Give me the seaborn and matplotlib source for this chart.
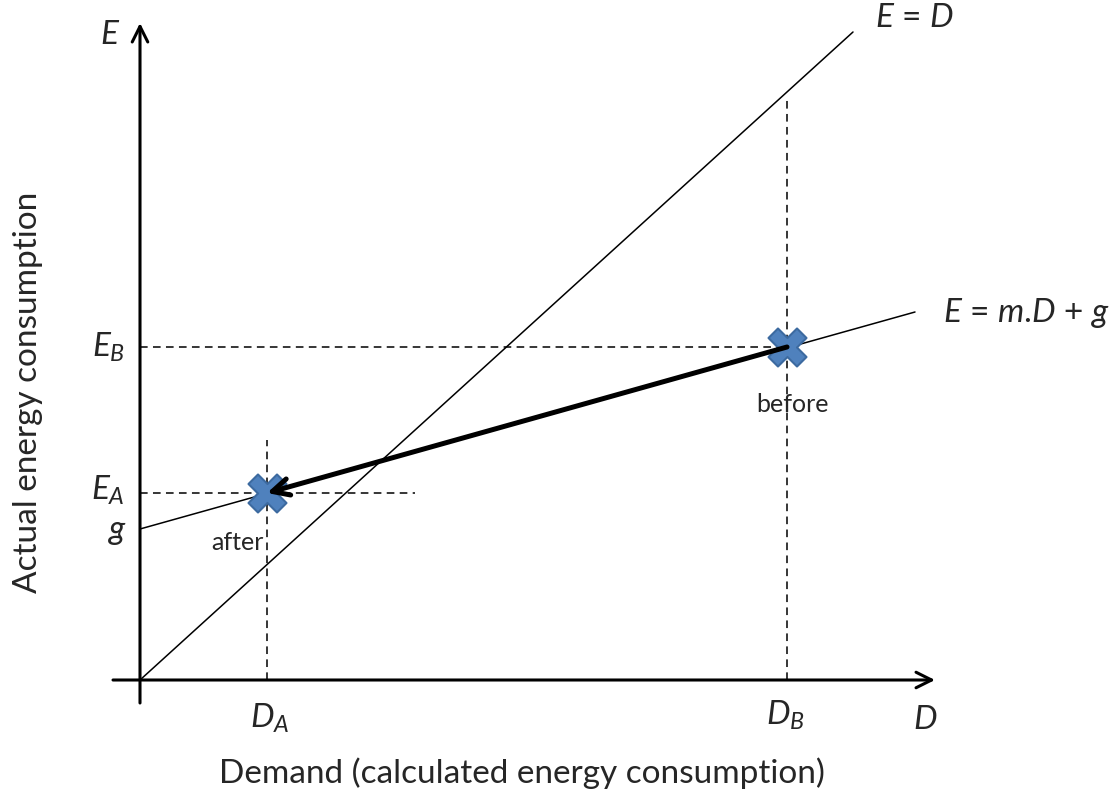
import matplotlib
matplotlib.use("Agg")
import matplotlib.pyplot as plt
import seaborn as sns
import pandas as pd

# --- Diagram values (units: screen-ish, origin at axes cross) ---
d_points = [127, 647]          # D_A (after), D_B (before)
e_points = [187, 333]          # E_A, E_B
point_names = ["after", "before"]
g_value = 151
identity_d = [0, 713]          # E = D line
identity_e = [0, 648]
fit_d = [0, 775]               # E = m.D + g line
fit_e = [151, 368]
tick_labels_d = ["$D_A$", "$D_B$"]
tick_labels_e = ["$E_A$", "$E_B$"]

sns.set_theme(style="white")
plt.rcParams["font.family"] = ["Lato", "DejaVu Sans"]
plt.rcParams["mathtext.fontset"] = "custom"
plt.rcParams["mathtext.rm"] = "Lato"
plt.rcParams["mathtext.it"] = "Lato:italic"

fig = plt.figure(figsize=(11.18, 8), dpi=100)
ax = fig.add_axes([0, 0, 1, 1])
ax.set_xlim(-140, 978)
ax.set_ylim(-120, 680)
ax.axis("off")

# --- Axes with arrows ---
ax.annotate("", xy=(795, 0), xytext=(-27, 0),
            arrowprops=dict(arrowstyle="->", lw=2.2, color="black", mutation_scale=28,
                            shrinkA=0, shrinkB=0))
ax.annotate("", xy=(0, 657), xytext=(0, -23),
            arrowprops=dict(arrowstyle="->", lw=2.2, color="black", mutation_scale=28,
                            shrinkA=0, shrinkB=0))

# --- Lines ---
lines = pd.DataFrame({"D": identity_d + fit_d, "E": identity_e + fit_e,
                      "line": ["E = D"] * 2 + ["fit"] * 2})
sns.lineplot(data=lines, x="D", y="E", units="line", estimator=None,
             color="black", lw=1.1, ax=ax, zorder=2)

# --- Dashed guides ---
dash = dict(color="black", lw=1.1, dashes=(5, 3.5), zorder=1)
ax.plot([0, 275], [e_points[0]] * 2, **dash)
ax.plot([d_points[0]] * 2, [0, 240], **dash)
ax.plot([0, d_points[1]], [e_points[1]] * 2, **dash)
ax.plot([d_points[1]] * 2, [0, 580], **dash)

# --- Points ---
pts = pd.DataFrame({"D": d_points, "E": e_points, "name": point_names})
sns.scatterplot(data=pts, x="D", y="E", marker="X", s=750, color="#4F81BD",
                edgecolor="#3C6AA0", linewidth=1.5, ax=ax, zorder=3, legend=False)

# --- Thick arrow from before to after ---
ax.annotate("", xy=(d_points[0], e_points[0]), xytext=(d_points[1], e_points[1]),
            arrowprops=dict(arrowstyle="->", lw=3.6, color="black", mutation_scale=30,
                            shrinkA=0, shrinkB=0), zorder=4)

# --- Labels ---
fs = 24
ax.text(-30, 645, "$E$", fontsize=fs, ha="center", va="center")
ax.text(-15, e_points[1], tick_labels_e[1], fontsize=fs, ha="right", va="center")
ax.text(-15, e_points[0] + 3, tick_labels_e[0], fontsize=fs, ha="right", va="center")
ax.text(-22, g_value - 3, "$g$", fontsize=fs, ha="center", va="center")
ax.text(d_points[0] + 3, -38, tick_labels_d[0], fontsize=fs, ha="center", va="center")
ax.text(d_points[1] - 2, -35, tick_labels_d[1], fontsize=fs, ha="center", va="center")
ax.text(785, -40, "$D$", fontsize=fs, ha="center", va="center")
ax.text(735, 662, "$E$ = $D$", fontsize=fs, ha="left", va="center")
ax.text(803, 367, "$E$ = $m$.$D$ + $g$", fontsize=fs, ha="left", va="center")
ax.text(d_points[1] + 5, 275, point_names[1], fontsize=18, ha="center", va="center")
ax.text(d_points[0] - 30, 137, point_names[0], fontsize=18, ha="center", va="center")
ax.text(382, -93, "Demand (calculated energy consumption)", fontsize=fs,
        ha="center", va="center")
ax.text(-112, 288, "Actual energy consumption", fontsize=fs, ha="center",
        va="center", rotation=90)

fig.savefig("out.png", dpi=100)
